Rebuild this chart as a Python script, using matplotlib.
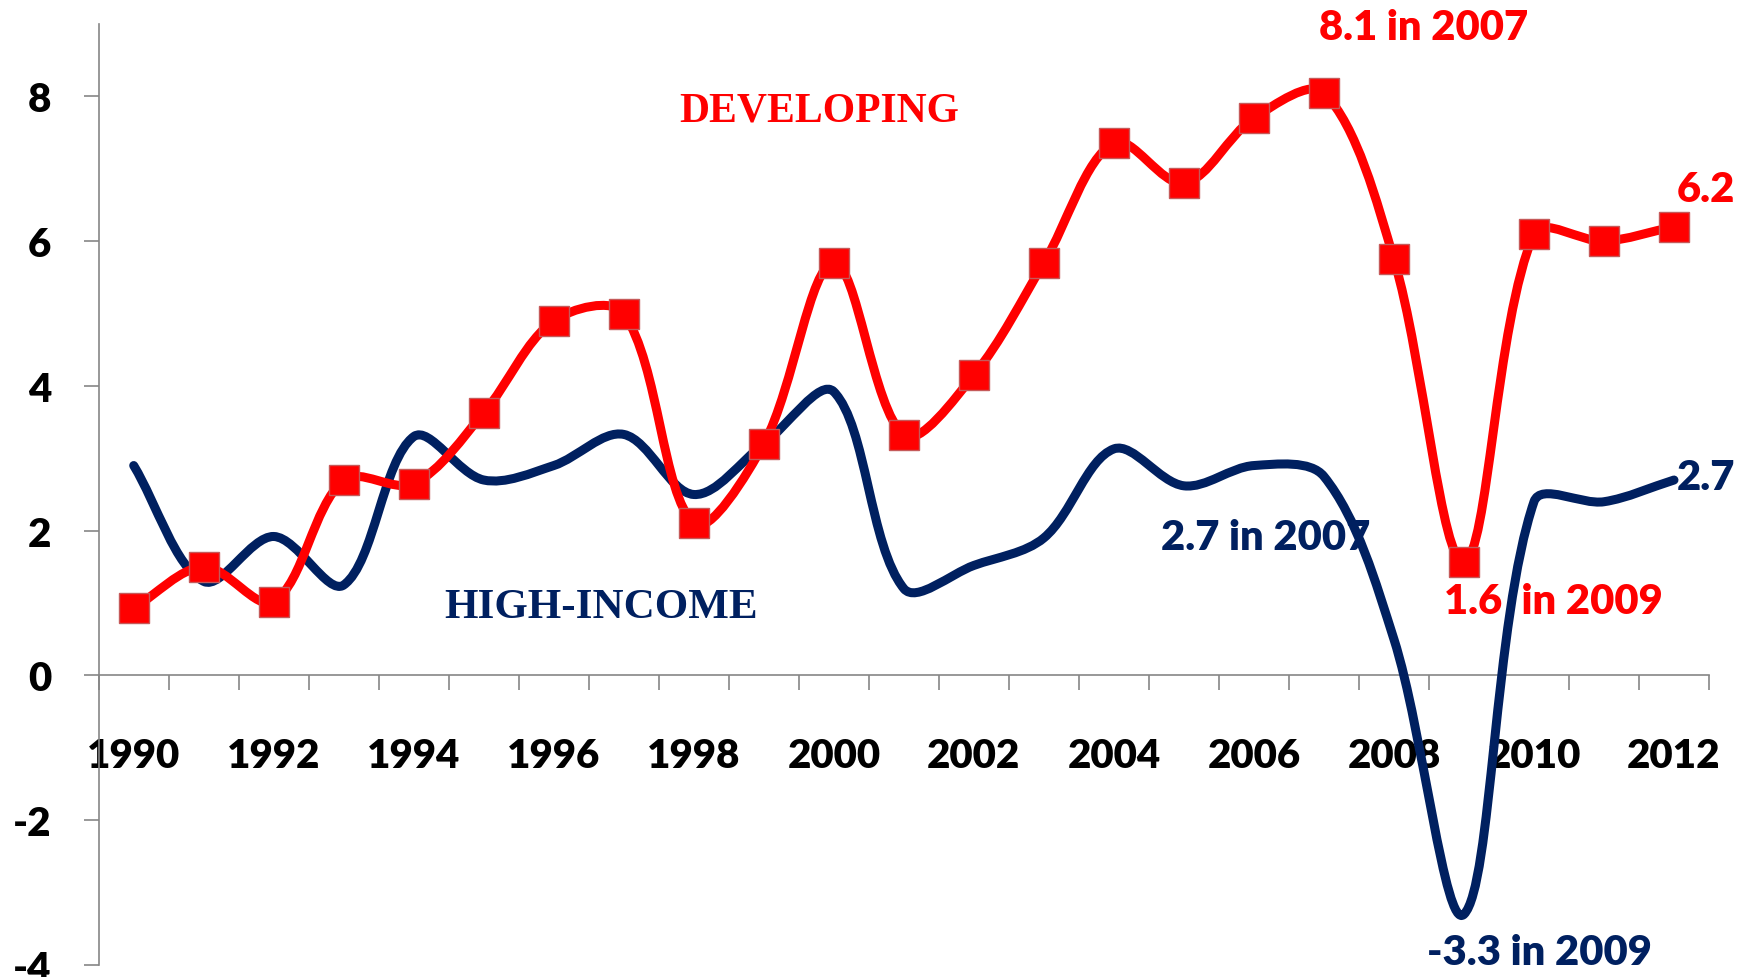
import numpy as np
import matplotlib.pyplot as plt
from matplotlib.path import Path
from matplotlib.patches import PathPatch

RED = '#FF0000'
NAVY = '#002060'
GRAY = '#868686'

years = list(range(1990, 2013))
developing = [0.93, 1.5, 1.02, 2.7, 2.65, 3.63, 4.9, 5.0, 2.1, 3.2, 5.7, 3.32, 4.15,
              5.7, 7.36, 6.8, 7.7, 8.05, 5.75, 1.57, 6.1, 6.0, 6.2]
high_income = [2.9, 1.3, 1.92, 1.25, 3.3, 2.7, 2.9, 3.33, 2.5, 3.2, 3.92, 1.2, 1.52,
               1.9, 3.13, 2.62, 2.9, 2.75, 0.5, -3.3, 2.4, 2.4, 2.7]
label_years = list(range(1990, 2013, 2))
y_ticks = [-4, -2, 0, 2, 4, 6, 8]

# pixels per data unit, used to make the smoothing look like excel's
PX_X, PX_Y = 70.0, 72.4


def smooth_path(x, y):
    # bezier curve through the points, control arms scaled by the
    # neighbouring segment lengths on screen
    pts = np.column_stack([np.asarray(x, float) * PX_X, np.asarray(y, float) * PX_Y])
    n = len(pts)
    d = np.hypot(*np.diff(pts, axis=0).T)
    c_out, c_in = [], []
    for i in range(n):
        p_prev = pts[max(i - 1, 0)]
        p_next = pts[min(i + 1, n - 1)]
        t = p_next - p_prev
        d0 = d[i - 1] if i > 0 else 0.0
        d1 = d[i] if i < n - 1 else 0.0
        s = d0 + d1
        c_out.append(pts[i] + t * d1 / s / 3 if s else pts[i])
        c_in.append(pts[i] - t * d0 / s / 3 if s else pts[i])
    verts = [pts[0]]
    codes = [Path.MOVETO]
    for i in range(n - 1):
        verts += [c_out[i], c_in[i + 1], pts[i + 1]]
        codes += [Path.CURVE4] * 3
    verts = np.array(verts) / [PX_X, PX_Y]
    return Path(verts, codes)


plt.rcParams['font.family'] = ['Lato', 'DejaVu Sans']
plt.rcParams['font.weight'] = 'heavy'

W, H = 1746, 978
fig = plt.figure(figsize=(W / 100, H / 100), dpi=100)
ax = fig.add_axes([98.7 / W, 12 / H, (1709 - 98.7) / W, (966 - 25) / H])
ax.set_xlim(1989.5, 2012.5)
ax.set_ylim(-4, 9)

ax.add_patch(PathPatch(smooth_path(years, high_income), facecolor='none', edgecolor=NAVY,
                       lw=6.5, capstyle='round', joinstyle='round', zorder=3))
ax.add_patch(PathPatch(smooth_path(years, developing), facecolor='none', edgecolor=RED,
                       lw=6.5, capstyle='round', joinstyle='round', zorder=4))
ax.plot(years, developing, 's', color=RED, markersize=21.5, markeredgecolor='#C55A5A',
        markeredgewidth=1.0, zorder=5)

# axes look
for s in ['top', 'right']:
    ax.spines[s].set_visible(False)
ax.spines['bottom'].set_position(('data', 0))
for s in ['left', 'bottom']:
    ax.spines[s].set_color(GRAY)
    ax.spines[s].set_linewidth(1.2)

ax.set_xticks(np.arange(1989.5, 2013, 1))
ax.set_xticklabels([])
ax.set_xticks(label_years, minor=True)
ax.set_xticklabels([str(y) for y in label_years], minor=True)
ax.tick_params(axis='x', which='major', direction='out', length=11, width=1.2, color=GRAY)
ax.tick_params(axis='x', which='minor', length=0, pad=44, labelsize=29)
ax.set_yticks(y_ticks)
ax.set_yticklabels([str(v) for v in y_ticks])
ax.tick_params(axis='y', direction='out', length=11, width=1.2, color=GRAY, pad=23, labelsize=29)

# labels on the chart
ax.text(2008.42, 8.96, '8.1 in 2007', color=RED, fontsize=30, ha='center', va='center')
ax.text(2012.45, 6.72, '6.2', color=RED, fontsize=30, ha='center', va='center')
ax.text(2012.45, 2.74, '2.7', color=NAVY, fontsize=30, ha='center', va='center')
ax.text(2006.17, 1.91, '2.7 in 2007', color=NAVY, fontsize=30, ha='center', va='center')
ax.text(2010.28, 1.03, '1.6  in 2009', color=RED, fontsize=30, ha='center', va='center')
ax.text(2010.08, -3.82, '-3.3 in 2009', color=NAVY, fontsize=30, ha='center', va='center')
ax.text(1999.79, 7.81, 'DEVELOPING', color=RED, fontsize=30, ha='center', va='center',
        family='Liberation Serif', weight='bold')
ax.text(1996.67, 0.95, 'HIGH-INCOME', color=NAVY, fontsize=31, ha='center', va='center',
        family='Liberation Serif', weight='bold')

fig.savefig('out.png', dpi=100)
